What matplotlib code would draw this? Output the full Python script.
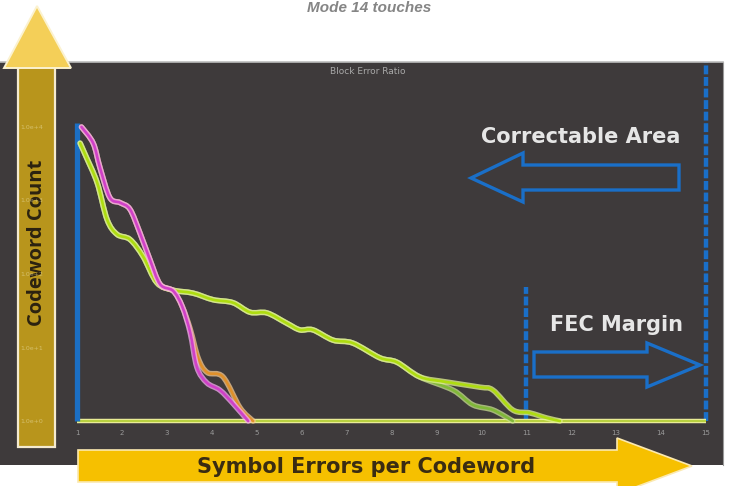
import matplotlib
matplotlib.use("Agg")
import matplotlib.pyplot as plt
import matplotlib.transforms as mtransforms
from matplotlib.patches import Polygon, PathPatch
from matplotlib.path import Path

# ---------------- data (log10 of codeword count) ----------------
x_ticks = list(range(1, 16))
y_ticks = [0, 1, 2, 3, 4]
y_tick_labels = ["1.0e+0", "1.0e+1", "1.0e+2", "1.0e+3", "1.0e+4"]

magenta_x = [1.1, 1.36, 1.51, 1.73, 1.96, 2.18, 2.40, 2.62, 2.85, 3.14, 3.34, 3.52, 3.67, 3.89, 4.18, 4.47, 4.81]
magenta_y = [4.0, 3.78, 3.45, 3.04, 2.97, 2.88, 2.56, 2.20, 1.86, 1.77, 1.56, 1.20, 0.73, 0.52, 0.42, 0.24, 0.0]

orange_x = [1.1, 1.36, 1.51, 1.73, 1.96, 2.18, 2.40, 2.62, 2.85, 3.14, 3.34, 3.52, 3.70, 3.90, 4.25, 4.63, 4.92]
orange_y = [4.0, 3.78, 3.45, 3.04, 2.97, 2.88, 2.56, 2.20, 1.86, 1.77, 1.56, 1.25, 0.85, 0.66, 0.60, 0.18, 0.0]

green_x = [1.07, 1.2, 1.45, 1.67, 1.89, 2.18, 2.47, 2.78, 3.14, 3.58, 4.03, 4.47, 4.85, 5.23, 5.67,
           5.96, 6.25, 6.70, 7.14, 7.74, 8.12, 8.63, 9.23, 9.97, 10.26, 10.70, 11.08, 11.46, 11.75]
green_y = [3.78, 3.6, 3.24, 2.74, 2.54, 2.47, 2.24, 1.88, 1.78, 1.74, 1.65, 1.61, 1.48, 1.47, 1.33,
           1.24, 1.24, 1.10, 1.06, 0.86, 0.80, 0.60, 0.53, 0.46, 0.42, 0.15, 0.11, 0.04, 0.0]

green2_x = [1.07, 1.2, 1.45, 1.67, 1.89, 2.18, 2.47, 2.78, 3.14, 3.58, 4.03, 4.47, 4.85, 5.23, 5.67,
            5.96, 6.25, 6.70, 7.14, 7.74, 8.12, 8.63, 9.37, 9.81, 10.26, 10.70]
green2_y = [3.78, 3.6, 3.24, 2.74, 2.54, 2.47, 2.24, 1.88, 1.78, 1.74, 1.65, 1.61, 1.48, 1.47, 1.33,
            1.24, 1.24, 1.10, 1.06, 0.86, 0.80, 0.60, 0.42, 0.22, 0.15, 0.0]

fec_limit = 11
max_errors = 15

W, H = 736, 486
fig = plt.figure(figsize=(W / 100, H / 100), dpi=100)
fig.patch.set_facecolor("white")

# panel px: x 0..723, y 62..465 ; x=1 at 77, x=15 at 706 ; y=0 at 421, 73.5 px/decade
pl, pr, pt, pb = 0, 723, 62, 465
ax = fig.add_axes([pl / W, 1 - pb / H, (pr - pl) / W, (pb - pt) / H])
ppx = (706 - 77) / 14
ppy = 73.5
ax.set_xlim(1 - (77 - pl) / ppx, 15 + (pr - 706) / ppx)
ax.set_ylim(-(pb - 421) / ppy, (421 - pt) / ppy)
ax.set_facecolor("#3e3a3b")
for s in ax.spines.values():
    s.set_visible(False)
ax.spines["top"].set_visible(True)
ax.spines["top"].set_color("#bdbdbd")
ax.spines["top"].set_linewidth(1.2)
ax.spines["right"].set_visible(True)
ax.spines["right"].set_color("#9a9a9a")

# pixel transform (px from top-left)
P = mtransforms.Affine2D().scale(1 / W, -1 / H).translate(0, 1) + fig.transFigure

# ticks
ax.set_xticks(x_ticks)
ax.set_xticklabels([str(v) for v in x_ticks])
ax.tick_params(axis="x", direction="in", length=0, pad=-25, labelsize=5, labelcolor="#9a9a9a")
ax.set_yticks(y_ticks)
ax.set_yticklabels(y_tick_labels)
ax.tick_params(axis="y", direction="in", length=0, pad=-31, labelsize=4.5, labelcolor="#e8dca0")
for lab in ax.get_yticklabels():
    lab.set_alpha(0.6)
ax.yaxis.set_zorder(20)

# baseline and blue vertical
ax.plot([1, max_errors], [0, 0], color="#f0f0a0", lw=3.2, zorder=3, solid_capstyle="butt")
ax.plot([1, max_errors], [0, 0], color="#b8d040", lw=1.6, zorder=3.1, solid_capstyle="butt")
ax.plot([1, 1], [0, 4.05], color="#1b6fc4", lw=3.8, zorder=4, solid_capstyle="butt")

# FEC dashed lines
ax.plot([fec_limit, fec_limit], [0, 1.82], color="#1a6fc8", lw=3.2, ls=(0, (2.0, 0.6)), zorder=2)
ax.plot([max_errors, max_errors], [0, 4.9], color="#1a6fc8", lw=3.2, ls=(0, (2.0, 0.6)), zorder=2)


# smooth curve path through the read points (Catmull-Rom as cubic Bezier segments)
def smooth_path(xs, ys):
    pts = list(zip(xs, ys))
    n = len(pts)
    verts = [pts[0]]
    codes = [Path.MOVETO]
    for i in range(n - 1):
        p0 = pts[i - 1] if i > 0 else pts[i]
        p1 = pts[i]
        p2 = pts[i + 1]
        p3 = pts[i + 2] if i + 2 < n else pts[i + 1]
        c1 = (p1[0] + (p2[0] - p0[0]) / 6, p1[1] + (p2[1] - p0[1]) / 6)
        c2 = (p2[0] - (p3[0] - p1[0]) / 6, p2[1] - (p3[1] - p1[1]) / 6)
        verts += [c1, c2, p2]
        codes += [Path.CURVE4] * 3
    return Path(verts, codes)


def halo(x, y, outer, inner, z):
    path = smooth_path(x, y)
    ax.add_patch(PathPatch(path, facecolor="none", edgecolor=outer, lw=4.0, alpha=0.75, zorder=z,
                           capstyle="round", joinstyle="round"))
    ax.add_patch(PathPatch(path, facecolor="none", edgecolor=inner, lw=1.9, zorder=z + 0.1,
                           capstyle="round", joinstyle="round"))

halo(green2_x, green2_y, "#c8e090", "#80b838", 5)
halo(green_x, green_y, "#e4f590", "#aedc10", 5.5)
halo(orange_x, orange_y, "#f5c890", "#e0902a", 6)
halo(magenta_x, magenta_y, "#f4a8f0", "#d040c8", 6.5)

# ---------------- decorations (pixel coords) ----------------
def poly(pts, **kw):
    p = Polygon(pts, closed=True, transform=P, clip_on=False, **kw)
    ax.add_patch(p)
    return p

# left vertical yellow arrow
poly([(18, 66), (55, 66), (55, 447), (18, 447)], facecolor="#b8951c", edgecolor="#f4ead0", lw=1.6, zorder=15)
poly([(4, 68), (37, 6), (71, 68)], facecolor="#f4cf58", edgecolor="#fbf2d0", lw=1.4, zorder=15)
ax.text(37, 243, "Codeword Count", transform=P, rotation=90, ha="center", va="center",
        fontsize=14.5, fontweight="bold", color="#2b2210", family="Open Sans", zorder=16)

# bottom horizontal yellow arrow
poly([(78, 450), (617, 450), (617, 438), (692, 466), (617, 494), (617, 482), (78, 482)],
     facecolor="#f6c000", edgecolor="#fbe9b0", lw=1.2, zorder=15)
ax.text(366, 467, "Symbol Errors per Codeword", transform=P, ha="center", va="center",
        fontsize=15, fontweight="bold", color="#3a2c12", family="DejaVu Sans", zorder=16)

# correctable area arrow (left pointing, outline)
poly([(471, 178), (523, 153), (523, 165), (679, 165), (679, 190), (523, 190), (523, 202)],
     facecolor="none", edgecolor="#1a6fc8", lw=2.4, zorder=12)
ax.text(581, 137, "Correctable Area", transform=P, ha="center", va="center",
        fontsize=15, fontweight="bold", color="#e6e6e6", family="DejaVu Sans", zorder=12)

# FEC margin arrow (right pointing, outline)
poly([(534, 352), (647, 352), (647, 343), (700, 365), (647, 387), (647, 377), (534, 377)],
     facecolor="none", edgecolor="#1a6fc8", lw=2.4, zorder=12)
ax.text(617, 325, "FEC Margin", transform=P, ha="center", va="center",
        fontsize=15, fontweight="bold", color="#e6e6e6", family="DejaVu Sans", zorder=12)

# small chart title inside panel
ax.text(368, 72, "Block Error Ratio", transform=P, ha="center", va="center",
        fontsize=6.5, color="#a8a8a8", zorder=12)

# top title
fig.text(369 / W, 1 - 12 / H, "Mode 14 touches", ha="center", va="baseline",
         fontsize=11, fontweight="bold", style="italic", color="#858585", family="Liberation Sans")

fig.savefig("out.png", dpi=100)
